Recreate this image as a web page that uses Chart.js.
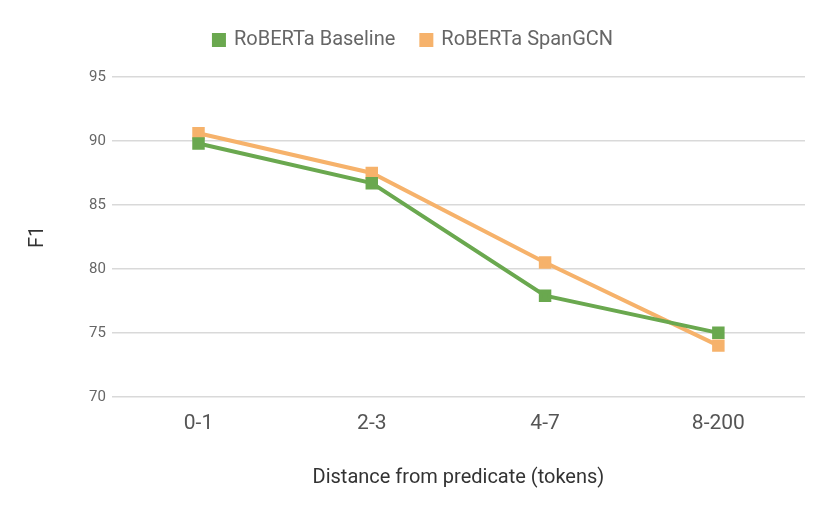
<!DOCTYPE html>
<html>
<head>
<meta charset="utf-8">
<script src="https://cdn.jsdelivr.net/npm/chart.js@4/dist/chart.umd.min.js"></script>
<style>
  html, body { margin: 0; padding: 0; background: #fff; }
  #wrap { width: 830px; height: 514px; }
</style>
</head>
<body>
<div id="wrap"><canvas id="grafico"></canvas></div>
<script>
const categories = ['0-1', '2-3', '4-7', '8-200'];
const baseline = [89.8, 86.7, 77.9, 75.0];
const spanGCN = [90.6, 87.5, 80.5, 74.0];
const yTicks = [70, 75, 80, 85, 90, 95];

const green = '#6aa84f';
const orange = '#f6b26b';

Chart.defaults.font.family = 'Roboto, sans-serif';

// leave some room under the legend
const legendGap = {
    id: 'legendGap',
    beforeInit(chart) {
        const fit = chart.legend.fit;
        chart.legend.fit = function () {
            fit.bind(this)();
            this.height += 17;
        };
    }
};

const ctx = document.getElementById('grafico').getContext('2d');
new Chart(ctx, {
    type: 'line',
    data: {
        labels: categories,
        datasets: [{
            label: 'RoBERTa Baseline',
            data: baseline,
            borderColor: green,
            backgroundColor: green,
            borderWidth: 4,
            pointStyle: 'rect',
            pointRadius: 6,
            pointHoverRadius: 6,
            tension: 0,
            fill: false
        }, {
            label: 'RoBERTa SpanGCN',
            data: spanGCN,
            borderColor: orange,
            backgroundColor: orange,
            borderWidth: 4,
            pointStyle: 'rect',
            pointRadius: 6,
            pointHoverRadius: 6,
            tension: 0,
            fill: false
        }]
    },
    plugins: [legendGap],
    options: {
        responsive: true,
        maintainAspectRatio: false,
        animation: false,
        layout: { padding: { left: 22, right: 25, top: 4, bottom: 20 } },
        plugins: {
            legend: {
                position: 'top',
                labels: {
                    usePointStyle: true,
                    pointStyle: 'rect',
                    boxWidth: 10,
                    boxHeight: 10,
                    padding: 26,
                    color: '#666',
                    font: { size: 20 }
                }
            },
            tooltip: { enabled: false }
        },
        scales: {
            x: {
                offset: true,
                grid: { display: false, drawTicks: false },
                border: { display: false },
                ticks: { color: '#555', font: { size: 21 }, padding: 14 },
                title: {
                    display: true,
                    text: 'Distance from predicate (tokens)',
                    color: '#333',
                    font: { size: 20 },
                    padding: { top: 16 }
                }
            },
            y: {
                min: 70,
                max: 95,
                afterBuildTicks: axis => { axis.ticks = yTicks.map(v => ({ value: v })); },
                grid: { color: '#d9d9d9', lineWidth: 1.5, drawTicks: false },
                border: { display: false },
                ticks: { color: '#666', font: { size: 15 }, padding: 6 },
                title: {
                    display: true,
                    text: 'F1',
                    color: '#333',
                    font: { size: 20 },
                    padding: { bottom: 33 }
                }
            }
        }
    }
});
</script>
</body>
</html>
